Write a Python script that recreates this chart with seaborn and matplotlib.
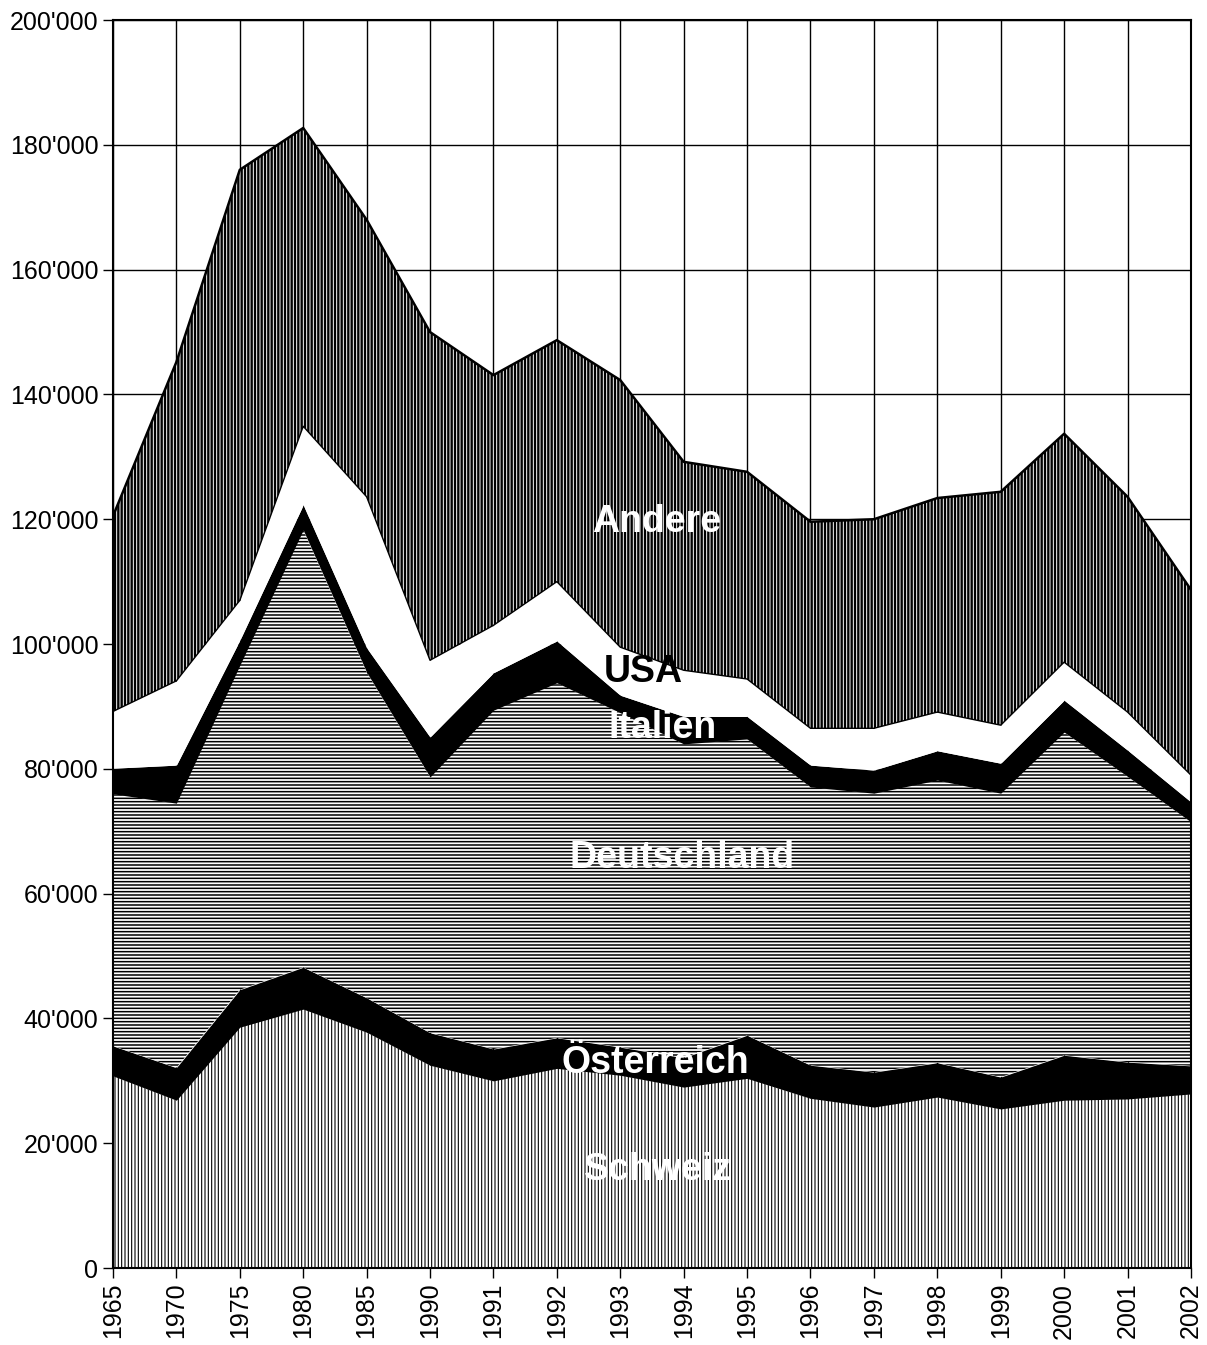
import matplotlib.pyplot as plt
import matplotlib.ticker as mticker
import numpy as np
import pandas as pd
import seaborn as sns

years = ["1965", "1970", "1975", "1980", "1985", "1990", "1991", "1992", "1993",
         "1994", "1995", "1996", "1997", "1998", "1999", "2000", "2001", "2002"]

schweiz = [30800, 26900, 38600, 41500, 37800, 32500, 30000, 32000, 30900,
           29000, 30400, 27200, 25800, 27400, 25500, 26900, 27100, 27900]
oesterreich = [4800, 5200, 6000, 6700, 5500, 5200, 5100, 4900, 4500,
               4700, 6900, 5300, 5600, 5500, 5100, 7200, 5900, 4500]
deutschland = [40400, 42400, 52000, 70100, 52200, 41000, 54300, 56900, 53600,
               50300, 47500, 44600, 44700, 45300, 45500, 51800, 45800, 39100]
italien = [4100, 6100, 4000, 4000, 3900, 6400, 6000, 6700, 2800,
           4400, 3600, 3500, 3700, 4700, 4800, 5100, 4200, 3200]
usa = [9100, 13500, 6400, 12600, 24200, 12300, 7600, 9500, 7700,
       7400, 6000, 5900, 6700, 6200, 6100, 6100, 6100, 4300]
andere = [31300, 51100, 69000, 47800, 44400, 52600, 40100, 38700, 42800,
          33400, 33200, 33100, 33500, 34300, 37400, 36600, 34500, 29700]

df = pd.DataFrame({
    "Jahr": years,
    "Schweiz": schweiz,
    "Österreich": oesterreich,
    "Deutschland": deutschland,
    "Italien": italien,
    "USA": usa,
    "Andere": andere,
})

sns.set_style("ticks")
plt.rcParams["font.family"] = ["Liberation Sans", "DejaVu Sans"]
plt.rcParams["hatch.linewidth"] = 1.0

fig = plt.figure(figsize=(12.07, 13.45), dpi=100)
ax = fig.add_axes([0.0936, 0.0572, 0.8931, 0.9279])

x = np.arange(len(df))
layers = ["Schweiz", "Österreich", "Deutschland", "Italien", "USA", "Andere"]
# (hatch, facecolor, hatch linewidth)
styles = {
    "Schweiz": ("|||||", "white", 0.8),
    "Österreich": (None, "black", None),
    "Deutschland": ("-----", "white", 1.1),
    "Italien": (None, "black", None),
    "USA": (None, "white", None),
    "Andere": ("|||||", "white", 1.7),
}

bottom = np.zeros(len(df))
tops = {}
for name in layers:
    top = bottom + df[name].to_numpy()
    hatch, fc, hlw = styles[name]
    coll = ax.fill_between(x, bottom, top, facecolor=fc, edgecolor="black",
                           linewidth=0, hatch=hatch, zorder=2)
    if hlw is not None and hasattr(coll, "set_hatch_linewidth"):
        coll.set_hatch_linewidth(hlw)
    tops[name] = top
    bottom = top

# outlines of the top layers
sns.lineplot(x=x, y=tops["USA"], color="black", linewidth=1.0, ax=ax, zorder=3)
sns.lineplot(x=x, y=tops["Andere"], color="black", linewidth=1.8, ax=ax, zorder=3)

label_font = dict(fontsize=27, fontweight="bold", ha="center", va="center", zorder=5)
ax.text(8.58, 119500, "Andere", color="white", **label_font)
ax.text(8.36, 95500, "USA", color="black", **label_font)
ax.text(8.67, 86500, "Italien", color="white", **label_font)
ax.text(8.97, 65700, "Deutschland", color="white", **label_font)
ax.text(8.55, 32900, "Österreich", color="white", **label_font)
ax.text(8.6, 15700, "Schweiz", color="white", **label_font)

ax.set_xlim(0, len(df) - 1)
ax.set_ylim(0, 200000)
ax.set_xticks(x)
ax.set_xticklabels(years, rotation=90, fontsize=18)
ax.yaxis.set_major_locator(mticker.MultipleLocator(20000))
ax.yaxis.set_major_formatter(
    mticker.FuncFormatter(lambda v, _: f"{int(v):,}".replace(",", "'")))
ax.tick_params(axis="y", labelsize=18)
ax.tick_params(axis="both", direction="out", length=7, width=1.0,
               color="black", labelcolor="black")

ax.grid(True, color="black", linewidth=1.0, zorder=0)
ax.set_axisbelow(True)
for side in ["top", "bottom", "left", "right"]:
    ax.spines[side].set_visible(True)
    ax.spines[side].set_linewidth(1.5)
    ax.spines[side].set_color("black")
    ax.spines[side].set_zorder(4)

ax.set_xlabel(None)
ax.set_ylabel(None)

fig.savefig("out.png", dpi=100)
plt.close(fig)
